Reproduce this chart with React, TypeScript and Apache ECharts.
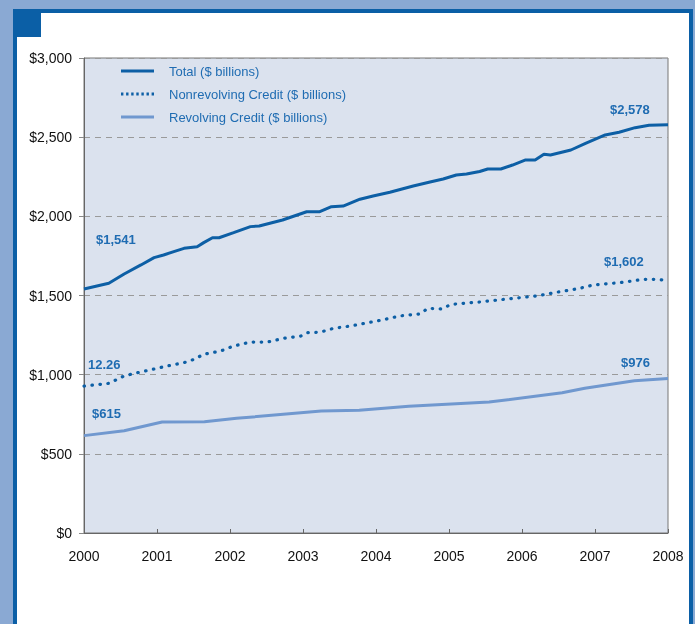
import React, { useEffect, useRef } from "react";
import * as echarts from "echarts";

// ---- data ----
const xTickYears = [2000, 2001, 2002, 2003, 2004, 2005, 2006, 2007, 2008];
const yTicks = [0, 500, 1000, 1500, 2000, 2500, 3000];

const seriesNames = [
  "Total ($ billions)",
  "Nonrevolving Credit ($ billions)",
  "Revolving Credit ($ billions)",
];

const totalYears = [
  2000.0, 2000.34, 2000.55, 2000.78, 2000.96, 2001.09, 2001.23, 2001.37, 2001.55, 2001.64,
  2001.76, 2001.85, 2002.05, 2002.28, 2002.4, 2002.72, 2002.91, 2003.05, 2003.23, 2003.39,
  2003.55, 2003.78, 2003.96, 2004.19, 2004.51, 2004.74, 2004.92, 2005.1, 2005.24, 2005.42,
  2005.53, 2005.71, 2005.87, 2006.05, 2006.18, 2006.3, 2006.39, 2006.67, 2006.87, 2007.14,
  2007.33, 2007.55, 2007.74, 2008.0,
];
const totalValues = [
  1541, 1577, 1636, 1693, 1739, 1756, 1777, 1798, 1808, 1834,
  1865, 1865, 1897, 1935, 1939, 1977, 2007, 2029, 2029, 2061,
  2065, 2108, 2128, 2152, 2192, 2217, 2236, 2261, 2267, 2283,
  2299, 2299, 2324, 2356, 2356, 2392, 2387, 2419, 2461, 2514,
  2531, 2560, 2575, 2578,
];

const nonrevYears = [
  2000.0, 2000.34, 2000.55, 2000.73, 2001.14, 2001.37, 2001.51, 2001.64, 2001.87, 2002.05,
  2002.28, 2002.51, 2002.74, 2002.97, 2003.06, 2003.24, 2003.42, 2003.65, 2003.88, 2004.08,
  2004.33, 2004.6, 2004.71, 2004.9, 2005.03, 2005.42, 2005.88, 2006.2, 2006.47, 2006.79,
  2006.97, 2007.34, 2007.66, 2007.84, 2008.0,
];
const nonrevValues = [
  928, 945, 992, 1012, 1055, 1076, 1097, 1129, 1149, 1181,
  1206, 1206, 1230, 1244, 1265, 1269, 1293, 1307, 1328, 1345,
  1371, 1383, 1419, 1415, 1444, 1459, 1482, 1497, 1520, 1545,
  1566, 1581, 1602, 1602, 1594,
];

const revolvYears = [
  2000.0, 2000.55, 2001.07, 2001.65, 2002.09, 2003.25, 2003.77, 2004.45, 2005.55, 2006.55,
  2006.86, 2007.54, 2008.0,
];
const revolvValues = [615, 646, 701, 703, 724, 770, 775, 800, 827, 886, 914, 962, 976];

const calloutTexts = ["$1,541", "12.26", "$615", "$2,578", "$1,602", "$976"];

// ---- styling ----
const DARK_BLUE = "#0d5fa5";
const LIGHT_LINE = "#7098cf";
const TEXT_BLUE = "#1f6cb2";
const FONT = '"Liberation Sans", Arial, Helvetica, sans-serif';

const SOLID_ICON = "path://M0,0h33v3h-33z";
function dottedIcon() {
  let d = "";
  for (let i = 0; i < 7; i++) {
    const x = i * 5.1;
    d += `M${x.toFixed(1)},0h2.4v3h-2.4z`;
  }
  return "path://" + d;
}

function zip(xs: number[], ys: number[]) {
  return xs.map((x, i) => [x, ys[i]]);
}

function money(v: number) {
  return "$" + String(v).replace(/\B(?=(\d{3})+(?!\d))/g, ",");
}

export default function App() {
  const ref = useRef<HTMLDivElement>(null);

  useEffect(() => {
    if (!ref.current) return;
    const chart = echarts.init(ref.current, undefined, { renderer: "svg" });

    const calloutPos = [
      [96, 239],
      [88, 364],
      [92, 413],
      [610, 109],
      [604, 261],
      [621, 362],
    ];

    chart.setOption({
      animation: false,
      textStyle: { fontFamily: FONT },
      graphic: [
        { type: "rect", z: -100, shape: { x: 0, y: 0, width: 695, height: 624 }, style: { fill: "#8aa9d3" } },
        { type: "rect", z: -99, shape: { x: 13, y: 9, width: 680, height: 615 }, style: { fill: "#0b5fa6" } },
        { type: "rect", z: -98, shape: { x: 17, y: 13, width: 672, height: 611 }, style: { fill: "#ffffff" } },
        { type: "rect", z: -97, shape: { x: 17, y: 13, width: 24, height: 24 }, style: { fill: "#0b5fa6" } },
        ...calloutTexts.map((t, i) => ({
          type: "text",
          z: 100,
          x: calloutPos[i][0],
          y: calloutPos[i][1],
          style: {
            text: t,
            fill: TEXT_BLUE,
            font: `bold 13px ${FONT}`,
            verticalAlign: "middle",
            textVerticalAlign: "middle",
          },
        })),
      ],
      grid: {
        left: 84,
        right: 27,
        top: 58,
        bottom: 91,
        show: true,
        backgroundColor: "#dbe2ee",
        borderColor: "#777777",
        borderWidth: 1,
      },
      legend: {
        orient: "vertical",
        left: 121,
        top: 64,
        padding: 0,
        itemWidth: 33,
        itemHeight: 3,
        itemGap: 9,
        textStyle: {
          color: TEXT_BLUE,
          fontSize: 13,
          lineHeight: 14,
          fontFamily: FONT,
          padding: [0, 0, 0, 10],
        },
        data: [
          { name: seriesNames[0], icon: SOLID_ICON },
          { name: seriesNames[1], icon: dottedIcon() },
          { name: seriesNames[2], icon: SOLID_ICON },
        ],
      },
      xAxis: {
        type: "value",
        min: xTickYears[0],
        max: xTickYears[xTickYears.length - 1],
        interval: 1,
        axisLine: { show: true, lineStyle: { color: "#666666", width: 1 } },
        axisTick: { show: true, inside: true, length: 4, lineStyle: { color: "#666666" } },
        splitLine: { show: false },
        axisLabel: {
          color: "#111111",
          fontSize: 14,
          fontFamily: FONT,
          margin: 16,
          formatter: (v: number) => String(v),
        },
      },
      yAxis: {
        type: "value",
        min: yTicks[0],
        max: yTicks[yTicks.length - 1],
        interval: 500,
        axisLine: { show: true, lineStyle: { color: "#666666", width: 1 } },
        axisTick: { show: true, inside: false, length: 5, lineStyle: { color: "#888888" } },
        splitLine: { show: true, lineStyle: { color: "#9a9a9a", type: [6, 5], width: 1 } },
        axisLabel: {
          color: "#111111",
          fontSize: 14,
          fontFamily: FONT,
          margin: 12,
          formatter: (v: number) => money(v),
        },
      },
      series: [
        {
          name: seriesNames[0],
          type: "line",
          symbol: "none",
          data: zip(totalYears, totalValues),
          lineStyle: { color: DARK_BLUE, width: 3 },
          itemStyle: { color: DARK_BLUE },
        },
        {
          name: seriesNames[1],
          type: "line",
          symbol: "none",
          data: zip(nonrevYears, nonrevValues),
          lineStyle: { color: DARK_BLUE, width: 3.2, type: [0.5, 7.5], cap: "round" },
          itemStyle: { color: DARK_BLUE },
        },
        {
          name: seriesNames[2],
          type: "line",
          symbol: "none",
          data: zip(revolvYears, revolvValues),
          lineStyle: { color: LIGHT_LINE, width: 3 },
          itemStyle: { color: LIGHT_LINE },
        },
      ],
    });

    return () => chart.dispose();
  }, []);

  return (
    <div
      ref={ref}
      style={{ position: "fixed", left: 0, top: 0, width: 695, height: 624 }}
    />
  );
}
